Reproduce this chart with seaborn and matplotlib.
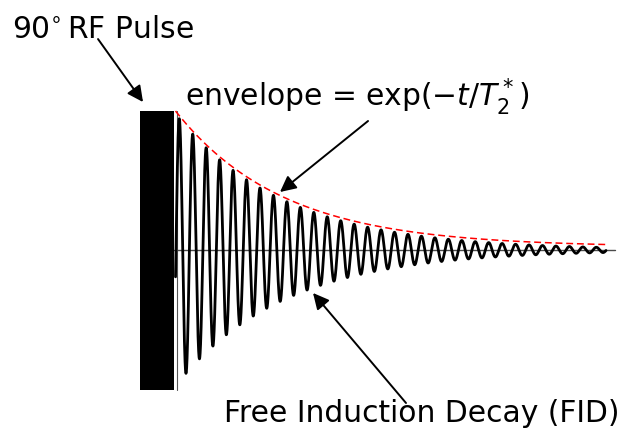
import numpy as np
import pandas as pd
import matplotlib
matplotlib.use("Agg")
import matplotlib.pyplot as plt
from matplotlib.patches import Rectangle
import seaborn as sns

# Signal parameters (time normalised to the length of the trace)
T2_STAR = 0.25          # decay constant of the envelope
LARMOR_FREQ = 32.0      # oscillations over the trace
FIRST_PEAK_T = 0.0088   # time of the first maximum
ENVELOPE_OFFSET = 0.022 # small lift so the dashed curve sits just above the peaks
SIGNAL_END = 1.0
ENVELOPE_END = 1.006

# Pulse block and axis extents
PULSE_T = [-0.0825, -0.0035]
PULSE_AMP = [-1.027, 1.024]
BASELINE_T = [-0.0035, 1.021]
ZERO_MARK_T = 0.004

# Labels
PULSE_LABEL = r"$90\!^\circ$RF Pulse"
ENVELOPE_LABEL = r"envelope = exp($-t/T_2^*$)"
FID_LABEL = "Free Induction Decay (FID)"

sns.set_theme(style="white")
plt.rcParams["font.family"] = ["DejaVu Sans"]
plt.rcParams["mathtext.fontset"] = "dejavusans"
plt.rcParams["text.color"] = "black"

t = np.linspace(0.0, SIGNAL_END, 6000)
fid = pd.DataFrame({
    "t": t,
    "signal": np.exp(-t / T2_STAR) * np.cos(2 * np.pi * LARMOR_FREQ * (t - FIRST_PEAK_T)),
})
te = np.linspace(0.0, ENVELOPE_END, 400)
env = pd.DataFrame({"t": te, "envelope": np.exp(-te / T2_STAR) + ENVELOPE_OFFSET})

fig = plt.figure(figsize=(6.21, 4.31), dpi=100)
ax = fig.add_axes([0, 0, 1, 1])

# zero line and the instant the pulse ends
ax.plot(BASELINE_T, [0, 0], color="#4a4a4a", lw=1.0, zorder=1)
ax.plot([ZERO_MARK_T, ZERO_MARK_T], PULSE_AMP, color="#555555", lw=0.8, zorder=1)

# RF pulse block
ax.add_patch(Rectangle((PULSE_T[0], PULSE_AMP[0]), PULSE_T[1] - PULSE_T[0],
                       PULSE_AMP[1] - PULSE_AMP[0], facecolor="black",
                       edgecolor="none", zorder=3))

sns.lineplot(data=fid, x="t", y="signal", ax=ax, color="black", lw=2.0,
             estimator=None, sort=False, zorder=2)
sns.lineplot(data=env, x="t", y="envelope", ax=ax, color="red", lw=1.1,
             linestyle=(0, (4.5, 2.5)), estimator=None, sort=False, zorder=4)

ax.set_xlim(-0.4077, 1.0348)
ax.set_ylim(-1.3235, 1.8456)
ax.set_axis_off()

fs = 21.4
ax.text(-0.3798, 1.566, PULSE_LABEL, fontsize=fs, ha="left", va="baseline")
ax.text(0.0221, 1.066, ENVELOPE_LABEL, fontsize=fs, ha="left", va="baseline")
ax.text(0.1127, -1.257, FID_LABEL, fontsize=fs, ha="left", va="baseline")

arrow = dict(arrowstyle="-|>", color="black", lw=1.4, mutation_scale=24,
             shrinkA=0, shrinkB=0)
ax.annotate("", xy=(-0.0755, 1.088), xytext=(-0.180, 1.551), arrowprops=arrow)
ax.annotate("", xy=(0.2427, 0.4265), xytext=(0.4472, 0.9485), arrowprops=arrow)
ax.annotate("", xy=(0.3194, -0.316), xytext=(0.5354, -1.125), arrowprops=arrow)

fig.savefig("out.png", dpi=100, facecolor="white")
